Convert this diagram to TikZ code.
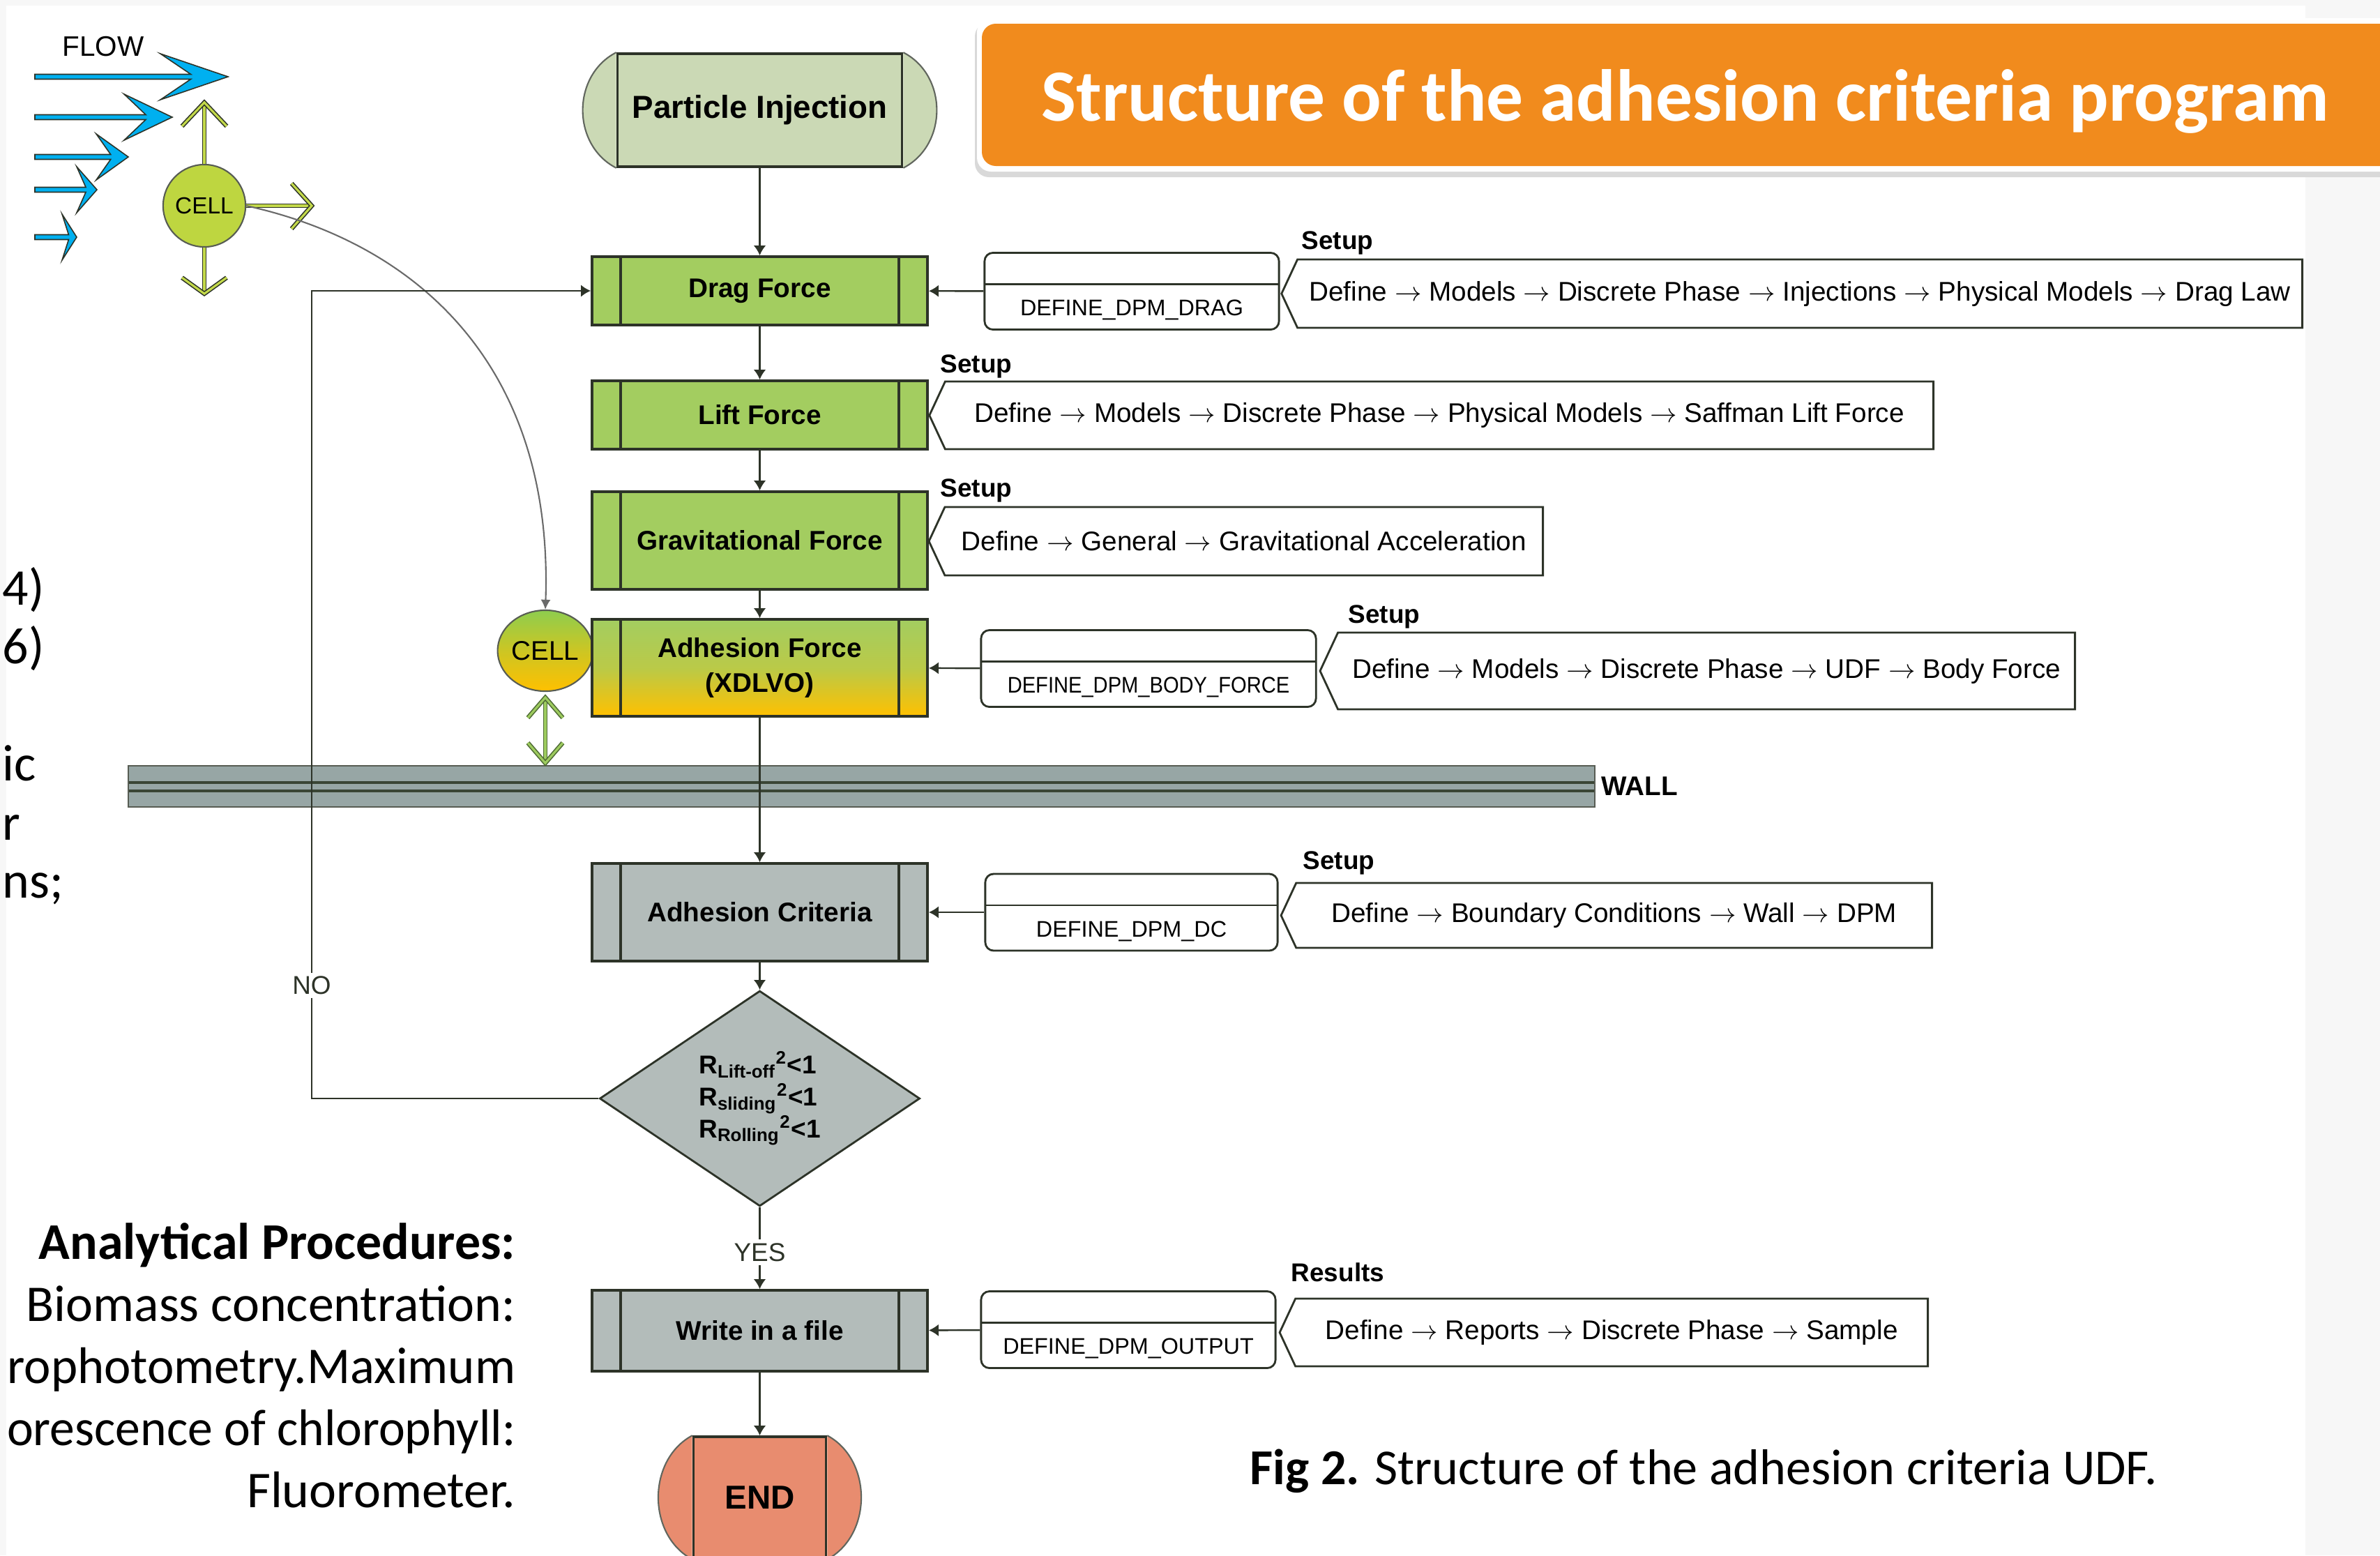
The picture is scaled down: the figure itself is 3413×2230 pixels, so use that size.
\documentclass[tikz,border=0pt]{standalone}
\usepackage{fontspec}
\setmainfont{Liberation Sans}
\newfontfamily\carlito{Carlito}
\usepackage{tikz}
\usetikzlibrary{arrows.meta}
\usetikzlibrary{shapes.geometric,shapes.symbols}
\usetikzlibrary{positioning}

\definecolor{darkline}{HTML}{2D3328}
\definecolor{boxgreen}{HTML}{A3CD60}
\definecolor{injgreen}{HTML}{CBD9B5}
\definecolor{boxgray}{HTML}{B3BCBA}
\definecolor{endred}{HTML}{E88C6F}
\definecolor{adhyellow}{HTML}{FFC000}
\definecolor{cellgreen}{HTML}{BED640}
\definecolor{cellgreentwo}{HTML}{8ECD4E}
\definecolor{wallgray}{HTML}{97A6A5}
\definecolor{wallstripe}{HTML}{3A4535}
\definecolor{flowblue}{HTML}{00B0F0}
\definecolor{limegreen}{HTML}{C3D94A}
\definecolor{softgreen}{HTML}{9DCB5E}
\definecolor{softdark}{HTML}{4F6B35}
\definecolor{titleorange}{HTML}{F18B1D}
\definecolor{curvegray}{HTML}{6A6A6A}
\definecolor{pagegray}{HTML}{F7F7F7}

\pgfdeclarelayer{bg}
\pgfsetlayers{bg,main}

\newcommand{\boxfont}{\fontsize{11}{14}\selectfont\bfseries}
\newcommand{\termfont}{\fontsize{13}{15}\selectfont\bfseries}
\newcommand{\udffont}{\fontsize{9.2}{11}\selectfont}
\newcommand{\descfont}{\fontsize{11}{13}\selectfont}
\newcommand{\setupfont}{\fontsize{10.5}{12}\selectfont\bfseries}
\newcommand{\decfont}{\fontsize{10.5}{13}\selectfont\bfseries}
\newcommand{\answerfont}{\fontsize{10.5}{12}\selectfont}
\newcommand{\cellfont}{\fontsize{9.5}{11}\selectfont}
\newcommand{\sidefont}{\carlito\fontsize{21}{25}\selectfont}

\tikzstyle{line} = [draw=darkline, -{Latex[length=4pt,width=5pt]}, line width=0.7pt]
\tikzstyle{curveline} = [draw=curvegray, -{Latex[length=4pt,width=4pt]}, line width=0.6pt]
\tikzstyle{process} = [draw=darkline, line width=1pt, fill=boxgreen, minimum width=4.81cm, inner sep=0pt, align=center, font=\boxfont,
	path picture={\draw[darkline, line width=1pt]
		([xshift=0.41cm]path picture bounding box.north west) -- ([xshift=0.41cm]path picture bounding box.south west)
		([xshift=-0.41cm]path picture bounding box.north east) -- ([xshift=-0.41cm]path picture bounding box.south east);}]
\tikzstyle{terminal} = [draw=darkline, line width=1pt, inner sep=0pt, font=\termfont]
\tikzstyle{termside} = [draw=darkline!75, line width=0.6pt]
\tikzstyle{decision} = [shape=diamond, draw=darkline, line width=0.8pt, fill=boxgray, minimum width=4.59cm, minimum height=2.7cm, inner sep=0pt, align=left, font=\decfont]
\tikzstyle{udf} = [draw=darkline, line width=0.8pt, fill=white, rounded corners=0.12cm, minimum height=1.1cm, inner sep=0pt, font=\udffont, text height=0.7cm, text depth=0cm,
	path picture={\draw[darkline, line width=0.8pt]
		([yshift=-0.45cm]path picture bounding box.north west) -- ([yshift=-0.45cm]path picture bounding box.north east);}]
\tikzstyle{setup} = [shape=signal, signal to=west, signal pointer angle=130, draw=darkline, line width=0.8pt, fill=white, inner sep=0pt, font=\descfont]
\tikzstyle{setuplabel} = [font=\setupfont, inner sep=0pt, anchor=base west]
\tikzstyle{answer} = [fill=white, inner sep=1.5pt, font=\answerfont, text=darkline]
\tikzstyle{cell} = [shape=ellipse, draw=darkline!80, line width=0.6pt, inner sep=0pt]
\tikzstyle{limearrow} = [draw=darkline, double=limegreen, double distance=0.9pt, line width=0.45pt, line join=miter]
\tikzstyle{greenarrow} = [draw=softdark, double=softgreen, double distance=0.9pt, line width=0.45pt, line join=miter]
\tikzstyle{flowarrow} = [fill=flowblue, draw=darkline, line width=0.45pt]
\tikzstyle{wallbar} = [draw=darkline!80, line width=0.6pt, fill=wallgray, minimum width=21.01cm, minimum height=0.59cm, inner sep=0pt,
	path picture={\draw[wallstripe, line width=1.1pt]
		([yshift=0.055cm]path picture bounding box.west) -- ([yshift=0.055cm]path picture bounding box.east)
		([yshift=-0.065cm]path picture bounding box.west) -- ([yshift=-0.065cm]path picture bounding box.east);}]
\tikzstyle{sidetext} = [font=\sidefont, inner sep=0pt, anchor=base east]
\tikzstyle{fragment} = [font=\sidefont, inner sep=0pt, anchor=base west]

\begin{document}
\begin{tikzpicture}[x=0.01cm, y=-0.01cm]
	\useasboundingbox (0,0) rectangle (3413,2230);
	\clip (0,0) rectangle (3413,2230);
	\begin{pgfonlayer}{bg}
		\fill[pagegray] (0,0) rectangle (3413,2230);
		\fill[white] (9,8) rectangle (3306,2230);
	\end{pgfonlayer}
	% -------------- Title --------------
	\fill[black!15, rounded corners=0.2cm] (1398,32) rectangle (3440,254);
	\fill[white, rounded corners=0.2cm] (1401,26) rectangle (3440,246);
	\fill[titleorange, rounded corners=0.2cm] (1408,34) rectangle (3440,238);
	\node[anchor=base, inner sep=0pt, text=white, font=\carlito\bfseries\fontsize{30}{34}\selectfont] (title) at (2417,173) {Structure of the adhesion criteria program};
	% -------------- Flow and cell --------------
	\node[font=\fontsize{11.5}{13}\selectfont, inner sep=0pt] (flow) at (148,67) {FLOW};
	\foreach \y/\tip/\bx in {110/327/230, 168/247/178, 225/184/138, 272/139/110, 340/110/89}{
		\pgfmathsetmacro{\nx}{\bx+0.45*(\tip-\bx)}
		\draw[flowarrow] (50,\y-3.5) -- (\nx,\y-3.5) -- (\bx,\y-33) -- (\tip,\y) -- (\bx,\y+33) -- (\nx,\y+3.5) -- (50,\y+3.5) -- cycle;
	}
	\node[cell, fill=cellgreen, minimum width=1.1cm, minimum height=1.18cm, font=\cellfont] (cell) at (293,295) {CELL};
	\draw[limearrow] (cell.north) -- ++(0,-86);
	\draw[limearrow] (cell.north) ++(-32,-54) -- ++(32,-34) -- ++(32,34);
	\draw[limearrow] (cell.south) -- ++(0,64);
	\draw[limearrow] (cell.south) ++(-32,43) -- ++(32,23) -- ++(32,-23);
	\draw[limearrow] (cell.east) -- ++(92,0);
	\draw[limearrow] (cell.east) ++(65,-32) -- ++(29,32) -- ++(-29,33);
	\node[cell, top color=cellgreentwo, bottom color=adhyellow, middle color=cellgreentwo!45!adhyellow, minimum width=1.14cm, minimum height=1.16cm, font=\fontsize{11}{13}\selectfont] (cell2) at (782,933) {CELL};
	\draw[curveline] (cell.east) .. controls +(250,55) and +(12,-345) .. (cell2.north);
	% -------------- Wall --------------
	\node[wallbar] (wall) at (1235.5,1127.5) {};
	\node[anchor=west, inner sep=0pt, font=\boxfont] (walltxt) at ([xshift=0.08cm]wall.east) {WALL};
	\draw[greenarrow] (cell2.south) ++(0,10) -- ++(0,90);
	\draw[greenarrow] (cell2.south) ++(-25,37) -- ++(25,-29) -- ++(25,29);
	\draw[greenarrow] (cell2.south) ++(-25,73) -- ++(25,29) -- ++(25,-29);
	% -------------- Main flow --------------
	\node[terminal, fill=injgreen, minimum width=4.08cm, minimum height=1.62cm] (inj) at (1089.5,158) {Particle Injection};
	\node[process, minimum height=0.98cm] (drag) at (1089.5,417) {Drag Force};
	\node[process, minimum height=0.98cm] (lift) at (1089.5,595) {Lift Force};
	\node[process, minimum height=1.4cm] (grav) at (1089.5,775) {Gravitational Force};
	\node[process, top color=boxgreen, bottom color=adhyellow, middle color=boxgreen!75!adhyellow, minimum height=1.39cm] (adh) at (1089.5,957.5) {Adhesion Force\\(XDLVO)};
	\node[process, fill=boxgray, minimum height=1.4cm] (crit) at (1089.5,1308) {Adhesion Criteria};
	\node[decision] (dec) at (1089.5,1575) {R\textsubscript{Lift-off}\textsuperscript{2}<1\\R\textsubscript{sliding}\textsuperscript{2}<1\\R\textsubscript{Rolling}\textsuperscript{2}<1};
	\node[process, fill=boxgray, minimum height=1.16cm] (write) at (1089.5,1908) {Write in a file};
	\node[terminal, fill=endred, minimum width=1.9cm, minimum height=1.74cm, font=\fontsize{13.5}{15}\selectfont\bfseries] (fin) at (1089.5,2147) {END};
	\begin{pgfonlayer}{bg}
		\draw[termside, fill=injgreen] (inj.north west) .. controls +(-64,33) and +(-64,-33) .. (inj.south west);
		\draw[termside, fill=injgreen] (inj.north east) .. controls +(64,33) and +(64,-33) .. (inj.south east);
		\draw[termside, fill=endred] (fin.north west) .. controls +(-65,35) and +(-65,-35) .. (fin.south west);
		\draw[termside, fill=endred] (fin.north east) .. controls +(65,35) and +(65,-35) .. (fin.south east);
	\end{pgfonlayer}
	\coordinate (nox) at (447,1575);
	\draw[line] (inj) -- (drag);
	\draw[line] (drag) -- (lift);
	\draw[line] (lift) -- (grav);
	\draw[line] (grav) -- (adh);
	\draw[line] (adh) -- (crit);
	\draw[line] (crit) -- (dec);
	\draw[line] (dec) -- node[answer, pos=0.55] {YES} (write);
	\draw[line] (write) -- (fin);
	\draw[line] (dec.west) -- (dec.west -| nox) -- node[answer, pos=0.14] {NO} (nox |- drag.west) -- (drag.west);
	% -------------- UDF macros --------------
	\node[udf, minimum width=4.22cm] (dragudf) at (1623,417.5) {DEFINE\_DPM\_DRAG};
	\node[udf, minimum width=4.8cm] (bodyudf) at (1647,958.5) {\scalebox{0.9}[1]{DEFINE\_DPM\_BODY\_FORCE}};
	\node[udf, minimum width=4.19cm] (dcudf) at (1622.5,1308) {DEFINE\_DPM\_DC};
	\node[udf, minimum width=4.22cm] (outudf) at (1618,1906.5) {DEFINE\_DPM\_OUTPUT};
	\draw[line] (dragudf) -- (drag);
	\draw[line] (bodyudf) -- (adh);
	\draw[line] (dcudf) -- (crit);
	\draw[line] (outudf) -- (write);
	% -------------- Setup paths --------------
	\node[setup, minimum width=14.63cm, minimum height=0.98cm, anchor=east] (dragset) at (3303,421) {Define $\rightarrow$ Models $\rightarrow$ Discrete Phase $\rightarrow$ Injections $\rightarrow$ Physical Models $\rightarrow$ Drag Law};
	\node[setup, minimum width=14.39cm, minimum height=0.97cm, anchor=east] (liftset) at (2774,595.5) {Define $\rightarrow$ Models $\rightarrow$ Discrete Phase $\rightarrow$ Physical Models $\rightarrow$ Saffman Lift Force};
	\node[setup, minimum width=8.8cm, minimum height=0.98cm, anchor=east] (gravset) at (2214,776) {Define $\rightarrow$ General $\rightarrow$ Gravitational Acceleration};
	\node[setup, minimum width=10.82cm, minimum height=1.1cm, anchor=east] (adhset) at (2977,962) {Define $\rightarrow$ Models $\rightarrow$ Discrete Phase $\rightarrow$ UDF $\rightarrow$ Body Force};
	\node[setup, minimum width=9.33cm, minimum height=0.93cm, anchor=east] (critset) at (2772,1312.5) {Define $\rightarrow$ Boundary Conditions $\rightarrow$ Wall $\rightarrow$ DPM};
	\node[setup, minimum width=9.29cm, minimum height=0.97cm, anchor=east] (writeset) at (2766,1910.5) {Define $\rightarrow$ Reports $\rightarrow$ Discrete Phase $\rightarrow$ Sample};
	\node[setuplabel] (draglbl) at (1866,357) {Setup};
	\node[setuplabel] (liftlbl) at (1348,534) {Setup};
	\node[setuplabel] (gravlbl) at (1348,712) {Setup};
	\node[setuplabel] (adhlbl) at (1933,893) {Setup};
	\node[setuplabel] (critlbl) at (1868,1246) {Setup};
	\node[setuplabel] (writelbl) at (1851,1837) {Results};
	% -------------- Side texts --------------
	\node[fragment] (frag1) at (3,867) {4)};
	\node[fragment] (frag2) at (3,951) {6)};
	\node[fragment] (frag3) at (3,1119) {ic};
	\node[fragment] (frag4) at (3,1204) {r};
	\node[fragment] (frag5) at (3,1287) {ns;};
	\node[sidetext, font=\sidefont\bfseries] (anhead) at (740,1805) {Analytical Procedures:};
	\node[sidetext] (anline1) at (740,1894) {Biomass concentration:};
	\node[sidetext] (anline2) at (740,1983) {\scalebox{0.985}[1]{rophotometry.Maximum}};
	\node[sidetext] (anline3) at (740,2072) {\scalebox{0.97}[1]{orescence of chlorophyll:}};
	\node[sidetext] (anline4) at (740,2161) {Fluorometer.};
	\node[anchor=base west, inner sep=0pt, font=\carlito\fontsize{20.5}{24}\selectfont] (caption) at (1792,2128) {\textbf{Fig 2.} Structure of the adhesion criteria UDF.};
\end{tikzpicture}
\end{document}
